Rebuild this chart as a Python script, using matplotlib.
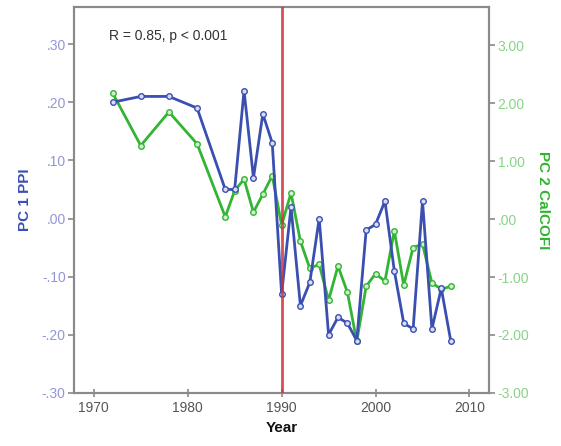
import matplotlib
matplotlib.use("Agg")
import matplotlib.pyplot as plt

plt.rcParams['font.family'] = ['Liberation Sans', 'DejaVu Sans']

years = [1972, 1975, 1978, 1981, 1984, 1985, 1986, 1987, 1988, 1989, 1990,
         1991, 1992, 1993, 1994, 1995, 1996, 1997, 1998, 1999, 2000, 2001,
         2002, 2003, 2004, 2005, 2006, 2007, 2008]
pc1_ppi = [0.20, 0.21, 0.21, 0.19, 0.05, 0.05, 0.22, 0.07, 0.18, 0.13, -0.13,
           0.02, -0.15, -0.11, 0.00, -0.20, -0.17, -0.18, -0.21, -0.02, -0.01, 0.03,
           -0.09, -0.18, -0.19, 0.03, -0.19, -0.12, -0.21]
pc2_calcofi = [2.18, 1.27, 1.85, 1.30, 0.04, 0.49, 0.69, 0.12, 0.43, 0.75, -0.10,
               0.45, -0.38, -0.85, -0.78, -1.40, -0.81, -1.26, -2.11, -1.16, -0.94, -1.07,
               -0.20, -1.14, -0.49, -0.43, -1.10, -1.21, -1.16]
left_ticks = [-0.30, -0.20, -0.10, 0.00, 0.10, 0.20, 0.30]
left_labels = ['-.30', '-.20', '-.10', '.00', '.10', '.20', '.30']
right_ticks = [-3, -2, -1, 0, 1, 2, 3]
right_labels = ['-3.00', '-2.00', '-1.00', '.00', '1.00', '2.00', '3.00']
x_ticks = [1970, 1980, 1990, 2000, 2010]
break_year = 1990

blue = '#3a4fb0'
green = '#33b533'
spine_c = '#8a8a8a'

fig = plt.figure(figsize=(5.61, 4.46), dpi=100)
ax1 = fig.add_axes([0.132, 0.119, 0.740, 0.865])
ax2 = ax1.twinx()
ax1.set_zorder(ax2.get_zorder() + 1)
ax1.patch.set_visible(False)

ax2.plot(years, pc2_calcofi, color=green, lw=2, marker='o', ms=4,
         mfc='#d0f0d0', mec=green, mew=1)
ax1.plot(years, pc1_ppi, color=blue, lw=2, marker='o', ms=4,
         mfc='#d8dcf4', mec=blue, mew=1, zorder=3)
ax1.axvline(break_year, color='#d0303a', lw=2, alpha=0.85, zorder=4)

ax1.set_xlim(1967.9, 2012.1)
ax1.set_ylim(-0.30, 0.3636)
ax2.set_ylim(-3.0, 3.66)

ax1.set_xticks(x_ticks)
ax1.set_yticks(left_ticks)
ax1.set_yticklabels(left_labels)
ax2.set_yticks(right_ticks)
ax2.set_yticklabels(right_labels)

for ax in (ax1, ax2):
    for s in ax.spines.values():
        s.set_color(spine_c)
        s.set_linewidth(1.5)

ax1.tick_params(axis='x', direction='inout', length=6, width=1.2, color=spine_c,
                labelsize=10, labelcolor='#555555', pad=3)
ax1.tick_params(axis='y', direction='out', length=4, width=1.2, color=spine_c,
                labelsize=10, labelcolor='#9296d8', pad=2)
ax2.tick_params(axis='y', direction='out', length=4, width=1.2, color=spine_c,
                labelsize=10, labelcolor='#88d488', pad=2)

ax1.set_xlabel('Year', fontsize=11, fontweight='bold', color='#111111', labelpad=4)
ax1.set_ylabel('PC 1 PPI', fontsize=11, fontweight='bold', color='#3a4fb0', labelpad=7)
ax2.set_ylabel('PC 2 CalCOFI', fontsize=11, fontweight='bold', color='#2fb52f',
               rotation=270, labelpad=15)

ax1.text(0.085, 0.925, 'R = 0.85, p < 0.001', transform=ax1.transAxes,
         fontsize=10, color='#333333', va='center', ha='left')

fig.savefig('out.png', dpi=100)
